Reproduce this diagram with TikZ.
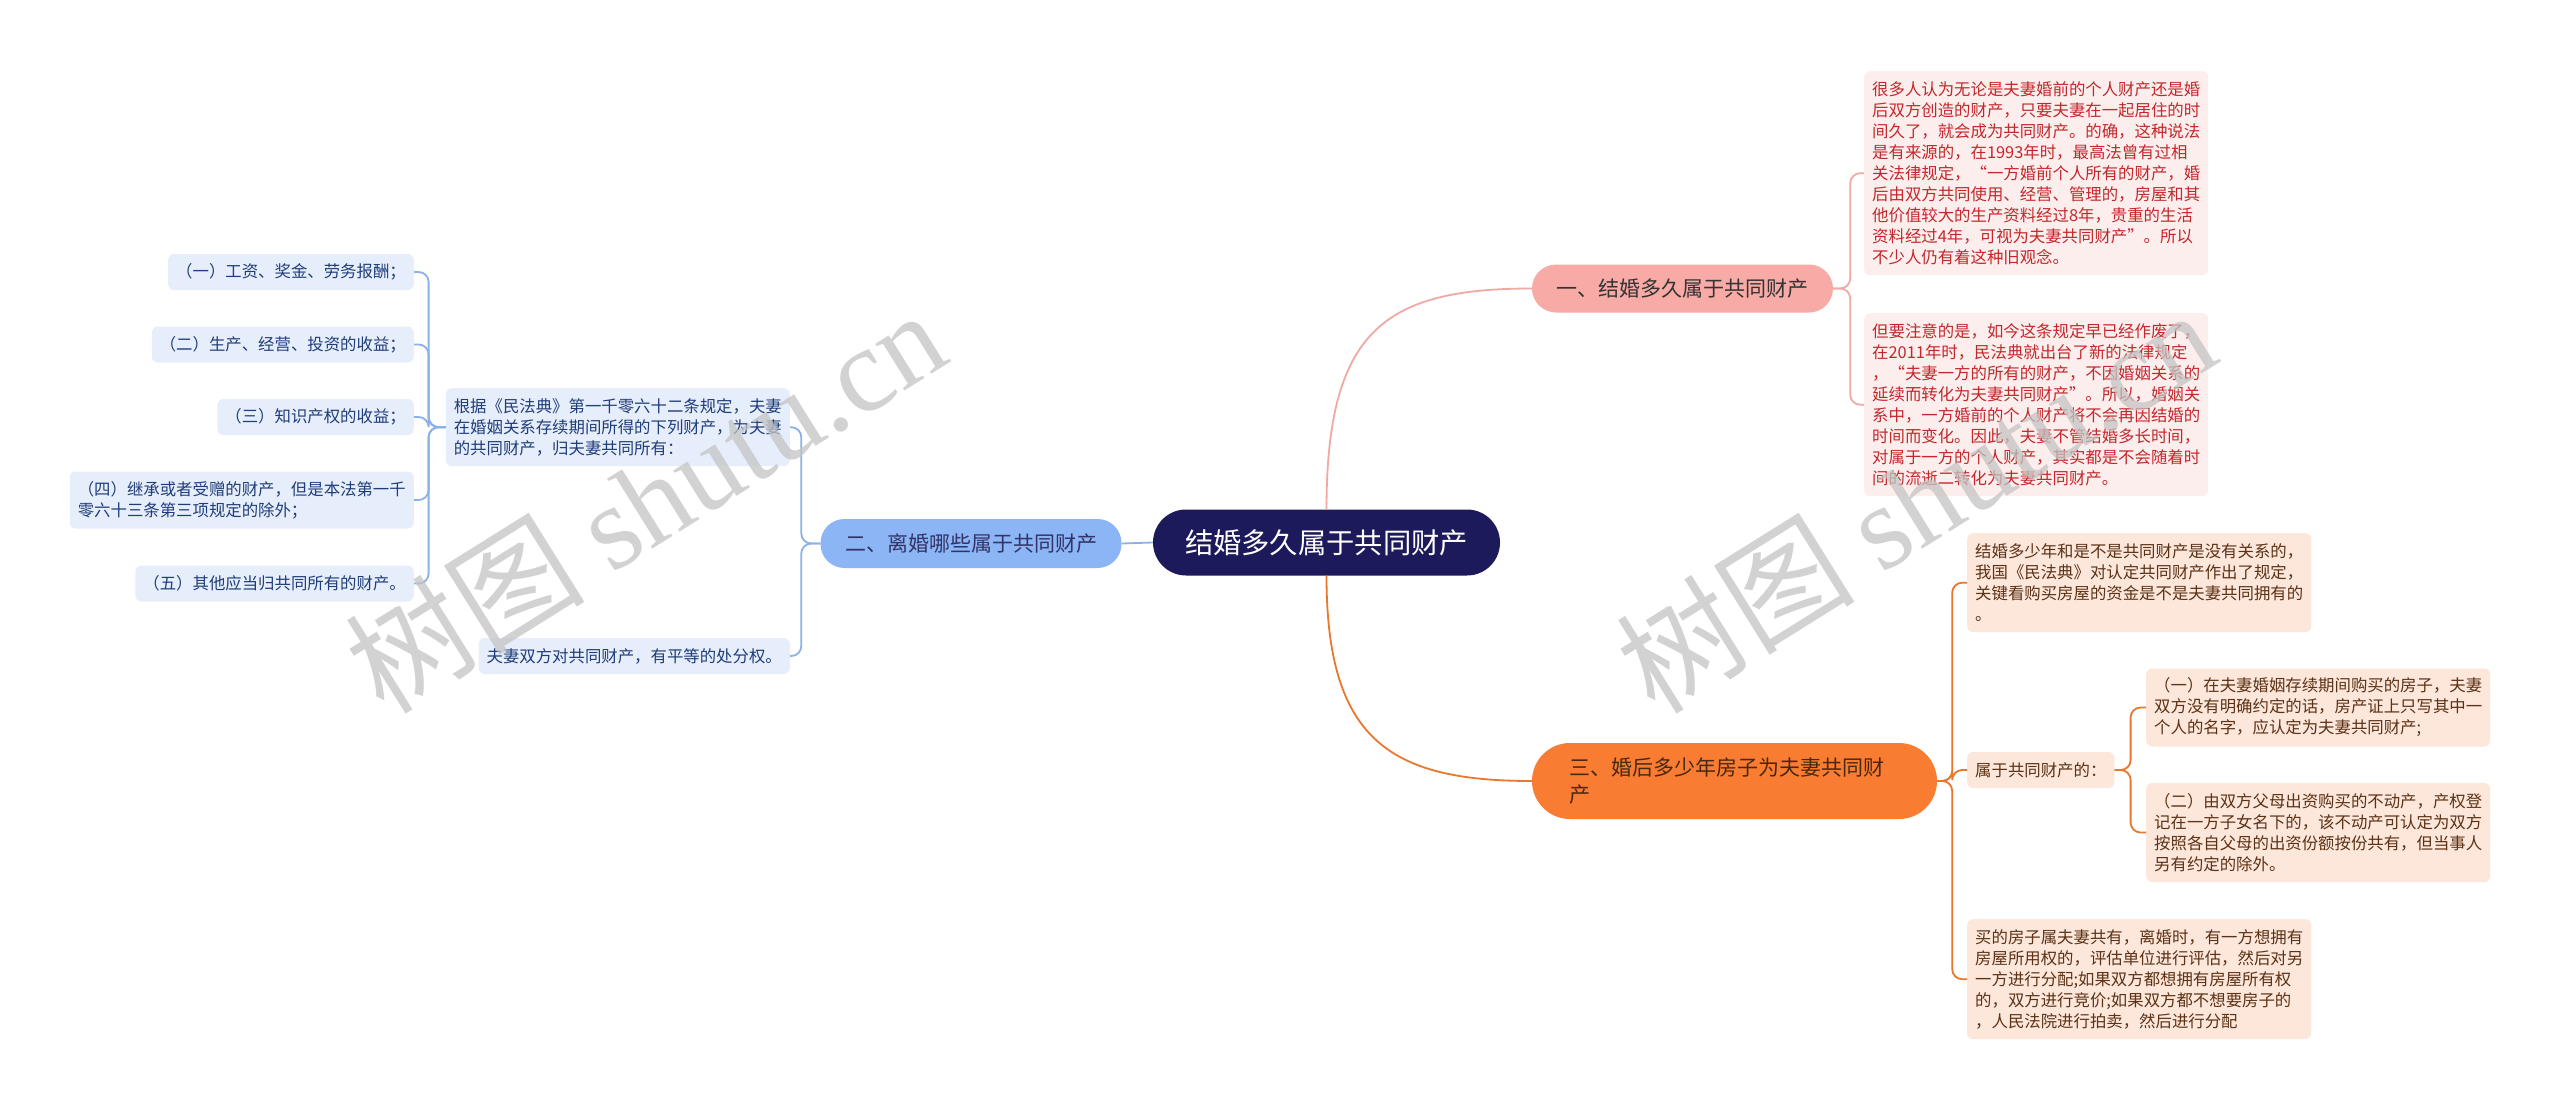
\documentclass[tikz,border=0pt]{standalone}
\usepackage{fontspec}
\setmainfont{Noto Sans CJK SC}
\newfontfamily\wmlatin{Liberation Serif}
\definecolor{rootc}{HTML}{1C1A5A}
\definecolor{pinkb}{HTML}{F8AAA6}
\definecolor{pinkl}{HTML}{F0A9A4}
\definecolor{pinkf}{HTML}{FDEEEE}
\definecolor{pinkt}{HTML}{C3272B}
\definecolor{orab}{HTML}{F97C33}
\definecolor{oral}{HTML}{E8782E}
\definecolor{oraf}{HTML}{FDE6DA}
\definecolor{orat}{HTML}{5B3216}
\definecolor{blub}{HTML}{8CB5F6}
\definecolor{blul}{HTML}{8CB0E8}
\definecolor{bluf}{HTML}{E7EEFB}
\definecolor{blut}{HTML}{1F3D7A}
\definecolor{wmc}{HTML}{C4C4C4}
\begin{document}
\begin{tikzpicture}[x=1pt,y=-1pt,
  rootnode/.style={fill=rootc, text=white, rounded corners=33, minimum width=347, minimum height=66, inner sep=0, font=\fontsize{28.3}{34}\selectfont},
  branchnode/.style={rounded corners=24, minimum height=48, inner sep=0, font=\fontsize{21}{27}\selectfont},
  leaf/.style={rounded corners=6, inner xsep=8, inner ysep=0, align=left, font=\fontsize{16.4}{21}\selectfont},
  nl/.style={minimum height={(#1-1)*21+36}},
  pleaf/.style={leaf, fill=pinkf, text=pinkt},
  oleaf/.style={leaf, fill=oraf, text=orat},
  bleaf/.style={leaf, fill=bluf, text=blut},
  pconn/.style={draw=pinkl, line width=1.8pt, rounded corners=10},
  oconn/.style={draw=oral, line width=1.8pt, rounded corners=10},
  bconn/.style={draw=blul, line width=1.8pt, rounded corners=10},
  wm/.style={text=wmc, opacity=0.75, font=\fontsize{120}{125}\selectfont}
]
\useasboundingbox (0,0) rectangle (2560,1111);
\fill[white] (0,0) rectangle (2560,1111);

% root and branches
\node[rootnode] (root) at (1326.5,542.5) {结婚多久属于共同财产};
\node[branchnode, fill=pinkb, text=black!80, minimum width=301] (b1) at (1682.5,288.5) {一、结婚多久属于共同财产};
\node[branchnode, fill=orab, text=orat!80!black, minimum width=405, minimum height=76, rounded corners=38, text width=331, inner xsep=37, align=left] (b3) at (1734.5,781) {三、婚后多少年房子为夫妻共同财\\产};
\node[branchnode, fill=blub, text=black!75!blue!80, minimum width=301, minimum height=49] (b2) at (971,543.5) {二、离婚哪些属于共同财产};

% branch 1 leaves
\node[pleaf, nl=9, anchor=north west] (p1) at (1864,71) {很多人认为无论是夫妻婚前的个人财产还是婚\\后双方创造的财产，只要夫妻在一起居住的时\\间久了，就会成为共同财产。的确，这种说法\\是有来源的，在1993年时，最高法曾有过相\\关法律规定，“一方婚前个人所有的财产，婚\\后由双方共同使用、经营、管理的，房屋和其\\他价值较大的生产资料经过8年，贵重的生活\\资料经过4年，可视为夫妻共同财产”。所以\\不少人仍有着这种旧观念。};
\node[pleaf, nl=8, anchor=north west] (p2) at (1864,313) {但要注意的是，如今这条规定早已经作废了，\\在2011年时，民法典就出台了新的法律规定\\，“夫妻一方的所有的财产，不因婚姻关系的\\延续而转化为夫妻共同财产”。所以，婚姻关\\系中，一方婚前的个人财产将不会再因结婚的\\时间而变化。因此，夫妻不管结婚多长时间，\\对属于一方的个人财产，其实都是不会随着时\\间的流逝二转化为夫妻共同财产。};

% branch 3 leaves
\node[oleaf, nl=4, anchor=north west] (o1) at (1967,533) {结婚多少年和是不是共同财产是没有关系的，\\我国《民法典》对认定共同财产作出了规定，\\关键看购买房屋的资金是不是夫妻共同拥有的\\。};
\node[oleaf, nl=1, anchor=west] (o2) at (1967,770) {属于共同财产的：};
\node[oleaf, nl=3, anchor=west] (o21) at (2146,707.5) {（一）在夫妻婚姻存续期间购买的房子，夫妻\\双方没有明确约定的话，房产证上只写其中一\\个人的名字，应认定为夫妻共同财产;};
\node[oleaf, nl=4, anchor=west] (o22) at (2146,832.5) {（二）由双方父母出资购买的不动产，产权登\\记在一方子女名下的，该不动产可认定为双方\\按照各自父母的出资份额按份共有，但当事人\\另有约定的除外。};
\node[oleaf, nl=5, anchor=north west] (o3) at (1967,919) {买的房子属夫妻共有，离婚时，有一方想拥有\\房屋所用权的，评估单位进行评估，然后对另\\一方进行分配;如果双方都想拥有房屋所有权\\的，双方进行竞价;如果双方都不想要房子的\\，人民法院进行拍卖，然后进行分配};

% branch 2 leaves
\node[bleaf, nl=3, anchor=north east] (l1) at (790,388) {根据《民法典》第一千零六十二条规定，夫妻\\在婚姻关系存续期间所得的下列财产，为夫妻\\的共同财产，归夫妻共同所有：};
\node[bleaf, nl=1, anchor=east] (l2) at (790,656) {夫妻双方对共同财产，有平等的处分权。};
\node[bleaf, nl=1, anchor=east] (i1) at (414,272) {（一）工资、奖金、劳务报酬；};
\node[bleaf, nl=1, anchor=east] (i2) at (414,344.5) {（二）生产、经营、投资的收益；};
\node[bleaf, nl=1, anchor=east] (i3) at (414,417) {（三）知识产权的收益；};
\node[bleaf, nl=2, anchor=east] (i4) at (414,500) {（四）继承或者受赠的财产，但是本法第一千\\零六十三条第三项规定的除外；};
\node[bleaf, nl=1, anchor=east] (i5) at (414,583.5) {（五）其他应当归共同所有的财产。};

% connectors
\draw[pinkl, line width=1.8pt] (root.north) .. controls (1326.5,330) and (1385,288.5) .. (b1.west);
\draw[oral, line width=1.8pt] (root.south) .. controls (1326.5,740) and (1390,781) .. (b3.west);
\draw[blul, line width=1.8pt] (b2.east) -- (root.west);

\draw[pconn] (b1.east) -- ++(17,0) |- (p1.west);
\draw[pconn] (b1.east) -- ++(17,0) |- (p2.west);

\draw[oconn] (b3.east) -- ++(15,0) |- (o1.west);
\draw[oconn] (b3.east) -- ++(15,0) |- (o2.west);
\draw[oconn] (b3.east) -- ++(15,0) |- (o3.west);
\draw[oconn] (o2.east) -- ++(16,0) |- (o21.west);
\draw[oconn] (o2.east) -- ++(16,0) |- (o22.west);

\draw[bconn] (b2.west) -- ++(-19,0) |- (l1.east);
\draw[bconn] (b2.west) -- ++(-19,0) |- (l2.east);
\draw[bconn] (l1.west) -- ++(-17,0) |- (i1.east);
\draw[bconn] (l1.west) -- ++(-17,0) |- (i2.east);
\draw[bconn] (l1.west) -- ++(-17,0) |- (i3.east);
\draw[bconn] (l1.west) -- ++(-17,0) |- (i4.east);
\draw[bconn] (l1.west) -- ++(-17,0) |- (i5.east);

% watermarks
\node[wm, rotate=32] (wm1) at (645,500) {树图 {\wmlatin shutu.cn}};
\node[wm, rotate=32] (wm2) at (1915,500) {树图 {\wmlatin shutu.cn}};
\end{tikzpicture}
\end{document}
